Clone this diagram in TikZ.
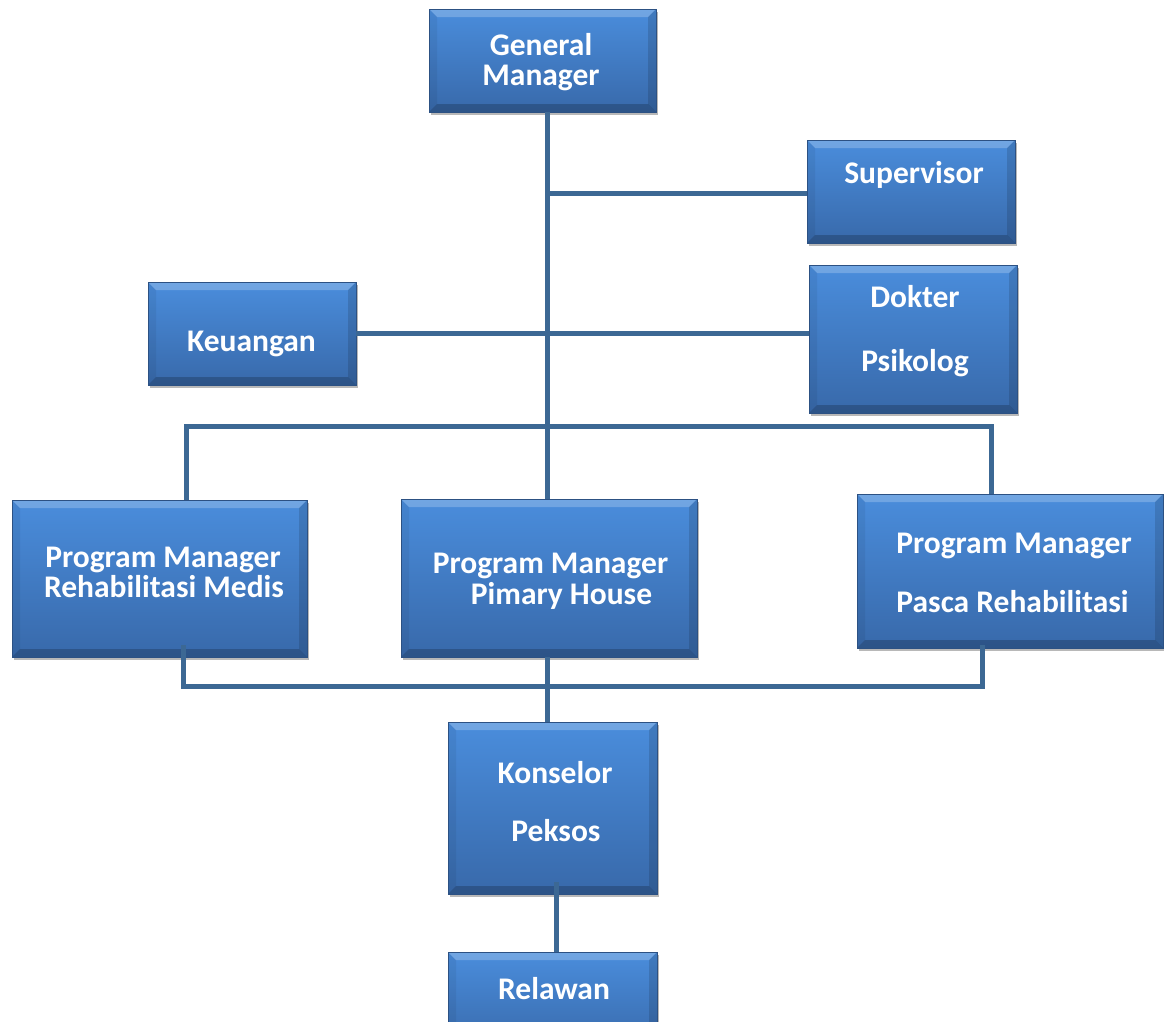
\documentclass[tikz,border=0pt]{standalone}
\usepackage{fontspec}
\setmainfont{Carlito}
\usetikzlibrary{shadows,calc}
\definecolor{boxtop}{HTML}{4A8DDC}
\definecolor{boxbot}{HTML}{3869AA}
\definecolor{boxedge}{HTML}{2C5183}
\definecolor{linkc}{HTML}{3C6894}
\tikzset{
  orgbox/.style={draw=boxedge, line width=0.8pt, top color=boxtop, bottom color=boxbot,
    inner sep=0pt, outer sep=0pt,
    drop shadow={shadow xshift=1.5pt, shadow yshift=-3pt, opacity=0.28, fill=black},
    path picture={
      \fill[white,opacity=0.22] (path picture bounding box.north west) -- (path picture bounding box.north east)
        -- ([xshift=-8pt,yshift=-8pt]path picture bounding box.north east) -- ([xshift=8pt,yshift=-8pt]path picture bounding box.north west) -- cycle;
      \fill[black,opacity=0.2] (path picture bounding box.south west) -- (path picture bounding box.south east)
        -- ([xshift=-8pt,yshift=8pt]path picture bounding box.south east) -- ([xshift=8pt,yshift=8pt]path picture bounding box.south west) -- cycle;
      \fill[black,opacity=0.13] (path picture bounding box.north east) -- (path picture bounding box.south east)
        -- ([xshift=-8pt,yshift=8pt]path picture bounding box.south east) -- ([xshift=-8pt,yshift=-8pt]path picture bounding box.north east) -- cycle;
      \fill[black,opacity=0.06] (path picture bounding box.north west) -- (path picture bounding box.south west)
        -- ([xshift=8pt,yshift=8pt]path picture bounding box.south west) -- ([xshift=8pt,yshift=-8pt]path picture bounding box.north west) -- cycle;
    }},
  lbl/.style={text=white, font=\fontsize{31.5}{36}\selectfont\bfseries, anchor=base, inner sep=0pt},
  link/.style={draw=linkc, line width=5pt}
}
\begin{document}
\begin{tikzpicture}[x=1pt,y=-1pt]
\useasboundingbox (0,0) rectangle (1164,1021);
\fill[white] (0,0) rectangle (1164,1021);
\clip (0,0) rectangle (1164,1021);
% boxes
\node[orgbox, minimum width=227pt, minimum height=103pt] (gm) at (542.5,60.5) {};
\node[orgbox, minimum width=208pt, minimum height=103pt] (sup) at (911,191.5) {};
\node[orgbox, minimum width=208pt, minimum height=103pt] (keu) at (252,333.5) {};
\node[orgbox, minimum width=208pt, minimum height=148pt] (dok) at (913,339) {};
\node[orgbox, minimum width=295pt, minimum height=157pt] (rehab) at (159.5,578.5) {};
\node[orgbox, minimum width=296pt, minimum height=158pt] (prim) at (549,578) {};
\node[orgbox, minimum width=306pt, minimum height=154pt] (pasca) at (1010,571) {};
\node[orgbox, minimum width=209pt, minimum height=172pt] (kons) at (552.5,808) {};
\node[orgbox, minimum width=209pt, minimum height=98pt] (rel) at (552.5,1001) {};
% texts
\node[lbl] (gmA) at (541,55) {General};
\node[lbl] (gmB) at (541,85) {Manager};
\node[lbl] (supA) at (914,183) {Supervisor};
\node[lbl] (keuA) at (251.5,351) {Keuangan};
\node[lbl] (dokA) at (915,307) {Dokter};
\node[lbl] (dokB) at (915,371) {Psikolog};
\node[lbl] (rehA) at (163,567) {Program Manager};
\node[lbl] (rehB) at (164,597) {Rehabilitasi Medis};
\node[lbl] (priA) at (550.5,573) {Program Manager};
\node[lbl] (priB) at (561.5,604) {Pimary House};
\node[lbl] (pasA) at (1014,553) {Program Manager};
\node[lbl] (pasB) at (1012.5,612) {Pasca Rehabilitasi};
\node[lbl] (konA) at (555,783) {Konselor};
\node[lbl] (konB) at (556,841) {Peksos};
\node[lbl] (relA) at (554,999) {Relawan};
% connector coordinates
\coordinate (tx) at (547,0);
\coordinate (lx) at (186,426);
\coordinate (rx) at (991,426);
\coordinate (lb) at (183,686);
\coordinate (rb) at (982,686);
\coordinate (kx) at (556,0);
\coordinate (sy) at (0,193);
% connectors
\draw[link] (gm.south -| tx) -- (prim.north -| tx);
\draw[link] (sup.west |- sy) -- (sy -| tx);
\draw[link] (keu.east) -- (keu.east -| dok.west);
\draw[link] (rehab.north -| lx) -- (lx) -- (rx) -- (pasca.north -| rx);
\draw[link] ($(rehab.south -| lb)+(0,-12)$) -- (lb) -- (rb) -- ($(pasca.south -| rb)+(0,-3)$);
\draw[link] (prim.south -| tx) -- (kons.north -| tx);
\draw[link] ($(kons.south -| kx)+(0,-12)$) -- (rel.north -| kx);
\end{tikzpicture}
\end{document}
